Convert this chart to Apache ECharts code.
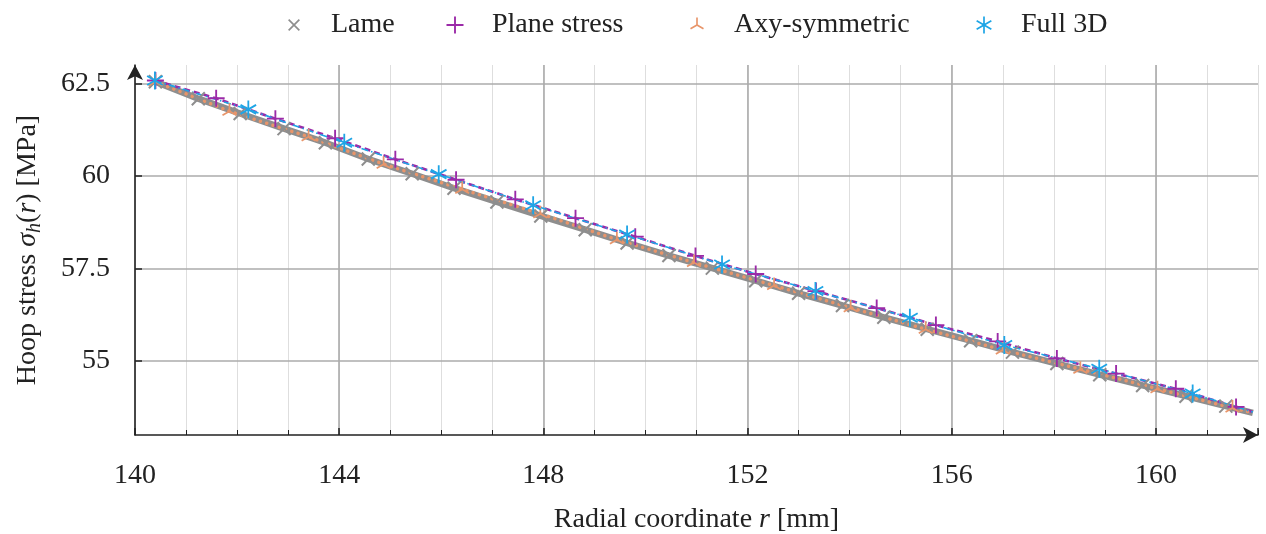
<!DOCTYPE html>
<html>
<head>
<meta charset="utf-8">
<script src="https://cdn.jsdelivr.net/npm/echarts@6/dist/echarts.min.js"></script>
<style>
  html, body { margin: 0; padding: 0; background: #fff; }
  #chart { width: 1266px; height: 534px; }
</style>
</head>
<body>
<div id="chart"></div>
<script>
// radial coordinate r [mm] / hoop stress [MPa]
// last entry of every list is the end of the curve (no mark there)
const lameR = [140.4, 141.24, 142.06, 142.92, 143.73, 144.57, 145.43, 146.25, 147.09, 147.95, 148.82, 149.64, 150.46, 151.31, 152.16, 153.0, 153.86, 154.67, 155.52, 156.37, 157.19, 158.06, 158.9, 159.74, 160.59, 161.37, 161.9]
const lameS = [62.55, 62.09, 61.69, 61.28, 60.9, 60.46, 60.06, 59.67, 59.3, 58.92, 58.55, 58.19, 57.85, 57.51, 57.17, 56.83, 56.5, 56.18, 55.86, 55.55, 55.24, 54.93, 54.63, 54.34, 54.05, 53.78, 53.6]

const planeR = [140.4, 141.59, 142.75, 143.92, 145.1, 146.29, 147.45, 148.63, 149.8, 150.98, 152.16, 153.34, 154.53, 155.69, 156.9, 158.06, 159.22, 160.39, 161.57, 161.9]
const planeS = [62.58, 62.1, 61.55, 61.02, 60.45, 59.9, 59.37, 58.86, 58.36, 57.84, 57.35, 56.89, 56.43, 55.97, 55.53, 55.07, 54.66, 54.25, 53.76, 53.62]

const axyR = [140.4, 141.85, 143.4, 144.87, 146.41, 147.94, 149.44, 150.95, 152.52, 154.02, 155.49, 157.0, 158.52, 160.03, 161.5, 161.9]
const axyS = [62.55, 61.75, 61.06, 60.32, 59.64, 58.98, 58.28, 57.66, 57.04, 56.44, 55.86, 55.3, 54.78, 54.25, 53.73, 53.6]

const fullR = [140.39, 142.22, 144.1, 145.95, 147.8, 149.64, 151.5, 153.33, 155.18, 157.03, 158.89, 160.72, 161.9]
const fullS = [62.58, 61.8, 60.9, 60.05, 59.21, 58.42, 57.61, 56.89, 56.17, 55.43, 54.79, 54.12, 53.62]

const xLabels = [140, 144, 148, 152, 156, 160]
const yTicks = [55, 57.5, 60, 62.5]

const FONT = 'Liberation Serif'
const INK = '#222222'
const GRAY = '#8e8e8e'
const PURPLE = '#9b2aa8'
const ORANGE = '#e8956a'
const CYAN = '#1ea5e6'

// marks drawn as thin filled shapes in a 20x20 box
const PAD = 'M0,0 L0,0 Z M20,20 L20,20 Z '
const MARK_X = 'path://' + PAD + 'M1.5,3.2 L3.2,1.5 L18.5,16.8 L16.8,18.5 Z M16.8,1.5 L18.5,3.2 L3.2,18.5 L1.5,16.8 Z'
const MARK_PLUS = 'path://' + PAD + 'M8.9,0 L11.1,0 L11.1,20 L8.9,20 Z M0,8.9 L20,8.9 L20,11.1 L0,11.1 Z'
const MARK_TRI = 'path://' + PAD + 'M8.9,0 L11.1,0 L11.1,10.6 L8.9,10.6 Z M10.55,9.05 L19.21,14.05 L18.11,15.95 L9.45,10.95 Z M9.45,9.05 L10.55,10.95 L1.89,15.95 L0.79,14.05 Z'
const MARK_AST = 'path://' + PAD + 'M9,0 L11,0 L11,20 L9,20 Z M1.84,4.13 L19.16,14.13 L18.16,15.87 L0.84,5.87 Z M0.84,14.13 L18.16,4.13 L19.16,5.87 L1.84,15.87 Z'

function toPoints (xs, ys) {
    return xs.map((x, i) => {
        if (i === xs.length - 1) return { value: [x, ys[i]], symbol: 'none' }
        return [x, ys[i]]
    })
}

// one legend per entry so each sits where the reference puts it
function legendItem (name, icon, color, iconCenter, size) {
    return {
        top: 25 - 14,
        left: iconCenter - size / 2,
        padding: 0,
        itemWidth: size,
        itemHeight: size,
        selectedMode: false,
        textStyle: { fontFamily: FONT, fontSize: 28, color: INK, padding: [0, 0, 0, 32 - size / 2] },
        data: [{ name: name, icon: icon, itemStyle: { color: color, borderWidth: 0 } }]
    }
}

const chart = echarts.init(document.getElementById('chart'), null, { renderer: 'canvas' })

const richMath = {
    i: { fontFamily: FONT, fontSize: 28, fontStyle: 'italic', color: INK, lineHeight: 34 },
    s: { fontFamily: FONT, fontSize: 20, fontStyle: 'italic', color: INK, lineHeight: 22, verticalAlign: 'bottom' }
}

const option = {
    animation: false,
    backgroundColor: '#ffffff',
    textStyle: { fontFamily: FONT, color: INK },
    grid: { left: 135, right: 8, top: 65, bottom: 99, containLabel: false, outerBoundsMode: 'none' },
    legend: [
        legendItem('Lame', MARK_X, GRAY, 294, 14),
        legendItem('Plane stress', MARK_PLUS, PURPLE, 455, 17),
        legendItem('Axy-symmetric', MARK_TRI, ORANGE, 697, 15),
        legendItem('Full 3D', MARK_AST, CYAN, 984, 17)
    ],
    xAxis: [
        {
            type: 'value',
            position: 'bottom',
            min: 140,
            max: 162,
            interval: 4,
            z: 1,
            name: 'Radial coordinate {i|r} [mm]',
            nameLocation: 'middle',
            nameGap: 68,
            nameTextStyle: { fontFamily: FONT, fontSize: 28, color: INK, lineHeight: 34, rich: richMath },
            axisLine: {
                show: true,
                onZero: false,
                symbol: ['none', 'arrow'],
                symbolSize: [12, 15],
                lineStyle: { color: INK, width: 1.5 }
            },
            axisTick: { show: true, inside: true, length: 7, lineStyle: { color: INK, width: 1.5 } },
            axisLabel: {
                margin: 27,
                fontFamily: FONT,
                fontSize: 28,
                color: INK,
                formatter: (v) => (xLabels.indexOf(v) >= 0 ? String(v) : '')
            },
            splitLine: { show: true, showMaxLine: false, lineStyle: { color: '#ababab', width: 1.6 } }
        },
        {
            // unit grid lines and small ticks
            type: 'value',
            position: 'bottom',
            min: 140,
            max: 162,
            interval: 1,
            z: 0,
            axisLine: { show: false },
            axisTick: { show: true, inside: true, length: 5, lineStyle: { color: INK, width: 1 } },
            axisLabel: { show: false },
            splitLine: { show: true, lineStyle: { color: '#dedede', width: 1 } }
        }
    ],
    yAxis: {
        type: 'value',
        min: 53,
        max: 63,
        z: 1,
        name: 'Hoop stress {i|σ}{s|h}({i|r}) [MPa]',
        nameLocation: 'middle',
        nameGap: 90,
        nameTextStyle: { fontFamily: FONT, fontSize: 28, color: INK, lineHeight: 34, rich: richMath },
        axisLine: {
            show: true,
            onZero: false,
            symbol: ['none', 'arrow'],
            symbolSize: [12, 15],
            lineStyle: { color: INK, width: 1.5 }
        },
        axisTick: { show: true, inside: true, length: 7, customValues: yTicks, lineStyle: { color: INK, width: 1.5 } },
        axisLabel: {
            margin: 25,
            fontFamily: FONT,
            fontSize: 28,
            color: INK,
            customValues: yTicks,
            formatter: (v) => String(v)
        },
        splitLine: { show: true, lineStyle: { color: '#ababab', width: 1.6 } }
    },
    series: [
        {
            name: 'Lame',
            type: 'line',
            xAxisIndex: 0,
            data: toPoints(lameR, lameS),
            symbol: MARK_X,
            symbolSize: 17,
            itemStyle: { color: GRAY },
            lineStyle: { color: GRAY, width: 6.5 },
            emphasis: { disabled: true }
        },
        {
            name: 'Plane stress',
            type: 'line',
            xAxisIndex: 0,
            data: toPoints(planeR, planeS),
            symbol: MARK_PLUS,
            symbolSize: 17,
            itemStyle: { color: PURPLE },
            lineStyle: { color: PURPLE, width: 2.6, type: [6, 4] },
            emphasis: { disabled: true }
        },
        {
            name: 'Axy-symmetric',
            type: 'line',
            xAxisIndex: 0,
            data: toPoints(axyR, axyS),
            symbol: MARK_TRI,
            symbolSize: 16,
            itemStyle: { color: ORANGE },
            lineStyle: { color: ORANGE, width: 3.5, type: [0.1, 6.5], cap: 'round' },
            emphasis: { disabled: true }
        },
        {
            name: 'Full 3D',
            type: 'line',
            xAxisIndex: 0,
            data: toPoints(fullR, fullS),
            symbol: MARK_AST,
            symbolSize: 18,
            itemStyle: { color: CYAN },
            lineStyle: { color: CYAN, width: 1.6, type: [7, 3, 1.5, 3] },
            emphasis: { disabled: true }
        }
    ]
}

chart.setOption(option)
</script>
</body>
</html>
